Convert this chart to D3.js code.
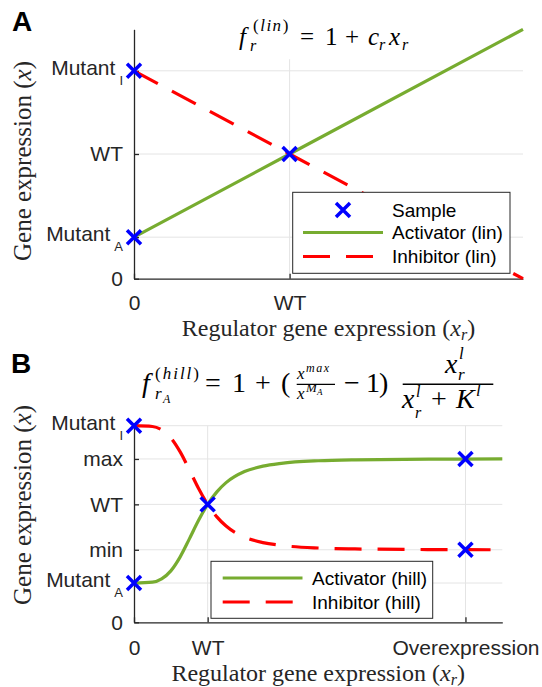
<!DOCTYPE html>
<html>
<head>
<meta charset="utf-8">
<script src="https://cdn.jsdelivr.net/npm/d3@7"></script>
<style>
  body { margin: 0; background: #fff; }
  svg { display: block; }
</style>
</head>
<body>
<svg id="chart" width="542" height="687"></svg>
<script>
// ---- panel A : linear model ----
const linX = [0, 1, 2.5];
const activatorLin = [0.333, 1, 2];
const inhibitorLin = [1.667, 1, 0];
const sampleLinX = [0, 0, 1];
const sampleLinY = [0.333, 1.667, 1];
const linYTicks = [0, 0.333, 1, 1.667];
const linYLabels = ["0", "Mutant|A", "WT", "Mutant|I"];
const linXTicks = [0, 1];
const linXLabels = ["0", "WT"];

// ---- panel B : hill model ----
const hillX = [0, 0.25, 0.375, 0.5, 0.625, 0.75, 0.875, 1, 1.125, 1.25, 1.5, 1.75, 2, 2.5, 3, 4, 5];
const activatorHill = [0.333, 0.340, 0.368, 0.436, 0.553, 0.705, 0.863, 1.0, 1.106, 1.184, 1.278, 1.324, 1.348, 1.370, 1.378, 1.383, 1.385];
const inhibitorHill = [1.667, 1.660, 1.632, 1.564, 1.447, 1.295, 1.137, 1.0, 0.894, 0.816, 0.722, 0.676, 0.652, 0.630, 0.622, 0.617, 0.615];
const sampleHillX = [0, 0, 1, 4.5, 4.5];
const sampleHillY = [0.333, 1.667, 1, 1.385, 0.615];
const hillYTicks = [0, 0.333, 0.615, 1, 1.385, 1.667];
const hillYLabels = ["0", "Mutant|A", "min", "WT", "max", "Mutant|I"];
const hillXTicks = [0, 1, 4.5];
const hillXLabels = ["0", "WT", "Overexpression"];

const sans = "'Liberation Sans', Arial, Helvetica, sans-serif";
const serif = "'Liberation Serif', 'Times New Roman', serif";
const axisColor = "#262626";
const gridColor = "#e4e4e4";
const green = "#77ac30";
const red = "#ff0000";
const blue = "#0000ff";

let svg = d3.select("#chart");

function drawPanel(o) {
  let g = svg.append("g");
  let x = d3.scaleLinear().domain(o.xDomain).range(o.xRange);
  let y = d3.scaleLinear().domain(o.yDomain).range(o.yRange);

  // gridlines
  g.selectAll(".hgrid")
    .data(o.yTicks.filter(d => d > 0))
    .enter().append("line")
    .attr("x1", o.xRange[0]).attr("x2", o.xRange[1])
    .attr("y1", d => y(d)).attr("y2", d => y(d))
    .attr("stroke", gridColor).attr("stroke-width", 1);
  g.selectAll(".vgrid")
    .data(o.xTicks.filter(d => d > 0))
    .enter().append("line")
    .attr("x1", d => x(d)).attr("x2", d => x(d))
    .attr("y1", y(o.vGridTop)).attr("y2", o.yRange[0])
    .attr("stroke", gridColor).attr("stroke-width", 1);

  // axes
  let xAxis = d3.axisBottom(x)
    .tickValues(o.xTicks)
    .tickFormat((d, i) => o.xLabels[i])
    .tickSizeInner(-5).tickSizeOuter(0)
    .tickPadding(o.xPad);
  let yAxis = d3.axisLeft(y)
    .tickValues(o.yTicks)
    .tickFormat((d, i) => o.yLabels[i])
    .tickSizeInner(-5).tickSizeOuter(0)
    .tickPadding(11);

  let xg = g.append("g")
    .attr("transform", "translate(0," + o.yRange[0] + ")")
    .call(xAxis);
  let yg = g.append("g")
    .attr("transform", "translate(" + o.xRange[0] + ",0)")
    .call(yAxis);

  [xg, yg].forEach(a => {
    a.select(".domain").attr("stroke", axisColor).attr("stroke-width", 1.3);
    a.selectAll(".tick line").attr("stroke", axisColor).attr("stroke-width", 1.3);
    a.selectAll(".tick text")
      .attr("fill", axisColor)
      .style("font-family", sans)
      .style("font-size", "21px");
  });

  // Mutant labels with subscript
  yg.selectAll(".tick text").each(function(d, i) {
    let parts = o.yLabels[i].split("|");
    if (parts.length > 1) {
      let t = d3.select(this).text(null).attr("dy", "0.18em");
      t.append("tspan").text(parts[0]);
      t.append("tspan").text(parts[1])
        .attr("dx", 4).attr("dy", 10)
        .style("font-size", "13px");
    }
  });

  let line = d3.line()
    .x(d => x(d[0]))
    .y(d => y(d[1]))
    .curve(o.curve);

  g.append("path")
    .attr("d", line(o.xs.map((d, i) => [d, o.act[i]])))
    .attr("fill", "none")
    .attr("stroke", green)
    .attr("stroke-width", 3.2);
  g.append("path")
    .attr("d", line(o.xs.map((d, i) => [d, o.inh[i]])))
    .attr("fill", "none")
    .attr("stroke", red)
    .attr("stroke-width", 3.2)
    .attr("stroke-dasharray", "27,16");

  // sample crosses
  g.selectAll(".sample")
    .data(o.sx.map((d, i) => [d, o.sy[i]]))
    .enter().append("path")
    .attr("transform", d => "translate(" + x(d[0]) + "," + y(d[1]) + ")")
    .attr("d", "M-7,-7L7,7M-7,7L7,-7")
    .attr("stroke", blue)
    .attr("stroke-width", 3.5);

  // axis titles
  let xl = g.append("text")
    .attr("x", (o.xRange[0] + o.xRange[1]) / 2)
    .attr("y", o.xLabelY)
    .attr("text-anchor", "middle")
    .attr("fill", axisColor)
    .style("font-family", serif)
    .style("font-size", "24px");
  xl.append("tspan").text("Regulator gene expression (");
  xl.append("tspan").text("x").style("font-style", "italic");
  xl.append("tspan").text("r").style("font-style", "italic").style("font-size", "16px").attr("dy", 4);
  xl.append("tspan").text(")").attr("dy", -4);

  let yl = g.append("text")
    .attr("transform", "translate(31," + o.yLabelY + ") rotate(-90)")
    .attr("text-anchor", "middle")
    .attr("fill", axisColor)
    .style("font-family", serif)
    .style("font-size", "25px");
  yl.append("tspan").text("Gene expression (");
  yl.append("tspan").text("x").style("font-style", "italic");
  yl.append("tspan").text(")");

  // legend
  let lg = g.append("g");
  lg.append("rect")
    .attr("x", o.legend.x).attr("y", o.legend.y)
    .attr("width", o.legend.w).attr("height", o.legend.h)
    .attr("fill", "#fff")
    .attr("stroke", axisColor).attr("stroke-width", 1);
  let rows = lg.selectAll(".row")
    .data(o.legend.items)
    .enter().append("g")
    .attr("transform", (d, i) => "translate(0," + o.legend.rows[i] + ")");
  rows.each(function(d) {
    let r = d3.select(this);
    let l = o.legend;
    if (d.type === "marker") {
      r.append("path")
        .attr("transform", "translate(" + (l.x1 + l.x2) / 2 + ",0)")
        .attr("d", "M-7,-7L7,7M-7,7L7,-7")
        .attr("stroke", blue).attr("stroke-width", 3.5);
    } else {
      r.append("line")
        .attr("x1", l.x1).attr("x2", l.x2)
        .attr("stroke", d.type === "act" ? green : red)
        .attr("stroke-width", 3.2)
        .attr("stroke-dasharray", d.type === "inh" ? "27,16" : null);
    }
    r.append("text")
      .attr("x", l.tx).attr("dy", "0.35em")
      .attr("fill", "#000")
      .style("font-family", sans)
      .style("font-size", "19px")
      .text(d.label);
  });

  return g;
}

function mt(x, y, str, size, italic, extra) {
  let t = svg.append("text")
    .attr("x", x).attr("y", y)
    .attr("fill", "#000")
    .style("font-family", serif)
    .style("font-size", size + "px")
    .style("font-style", italic ? "italic" : "normal")
    .text(str);
  if (extra) t.style("letter-spacing", extra + "px");
  return t;
}

drawPanel({
  xDomain: [0, 2.5], xRange: [134, 523],
  yDomain: [0, 2], yRange: [278.7, 29.3],
  vGridTop: 1.76,
  xTicks: linXTicks, xLabels: linXLabels, xPad: 16,
  yTicks: linYTicks, yLabels: linYLabels,
  xs: linX, act: activatorLin, inh: inhibitorLin,
  sx: sampleLinX, sy: sampleLinY,
  curve: d3.curveLinear,
  xLabelY: 336, yLabelY: 161,
  legend: {
    x: 292.7, y: 192.3, w: 217.3, h: 81,
    rows: [210, 232.5, 256.5], x1: 303, x2: 383, tx: 392,
    items: [
      {type: "marker", label: "Sample"},
      {type: "act", label: "Activator (lin)"},
      {type: "inh", label: "Inhibitor (lin)"}
    ]
  }
});

drawPanel({
  xDomain: [0, 5], xRange: [134, 502.3],
  yDomain: [0, 1.667], yRange: [622.3, 425.7],
  vGridTop: 1.667,
  xTicks: hillXTicks, xLabels: hillXLabels, xPad: 18,
  yTicks: hillYTicks, yLabels: hillYLabels,
  xs: hillX, act: activatorHill, inh: inhibitorHill,
  sx: sampleHillX, sy: sampleHillY,
  curve: d3.curveMonotoneX,
  xLabelY: 681, yLabelY: 505,
  legend: {
    x: 211, y: 561.3, w: 221.7, h: 57,
    rows: [578, 602], x1: 222.7, x2: 302.5, tx: 312,
    items: [
      {type: "act", label: "Activator (hill)"},
      {type: "inh", label: "Inhibitor (hill)"}
    ]
  }
});

// panel letters
svg.append("text").attr("x", 12).attr("y", 30.5)
  .style("font-family", sans).style("font-size", "28px").style("font-weight", "bold")
  .text("A");
svg.append("text").attr("x", 11).attr("y", 373)
  .style("font-family", sans).style("font-size", "28px").style("font-weight", "bold")
  .text("B");

// title A: f_r^(lin) = 1 + c_r x_r
mt(239, 45, "f", 25, true);
mt(250, 51, "r", 16, true);
let supA = mt(253, 31, "", 17, false, 1.5);
supA.append("tspan").text("(");
supA.append("tspan").text("lin").style("font-style", "italic");
supA.append("tspan").text(")");
mt(300, 45, "=", 25, false);
mt(325, 45, "1", 25, false);
mt(345, 45, "+", 25, false);
mt(368, 45, "c", 25, true);
mt(379, 50, "r", 16, true);
mt(389, 45, "x", 25, true);
mt(402, 50, "r", 16, true);

// title B: f_{r_A}^(hill) = 1 + (x^max / x^{M_A} - 1) x_r^l / (x_r^l + K^l)
mt(142, 392, "f", 28, true);
mt(155, 399, "r", 17, true);
mt(163, 403, "A", 12, true);
let supB = mt(155, 379, "", 17, false, 2);
supB.append("tspan").text("(");
supB.append("tspan").text("hill").style("font-style", "italic");
supB.append("tspan").text(")");
mt(205, 392, "=", 28, false);
mt(232, 392, "1", 28, false);
mt(255, 392, "+", 28, false);
mt(281, 392, "(", 28, false);
mt(297, 379, "x", 17, true);
mt(306, 372, "max", 12, true, 1.5);
svg.append("line").attr("x1", 296.7).attr("x2", 335).attr("y1", 384.3).attr("y2", 384.3)
  .attr("stroke", "#000").attr("stroke-width", 1.2);
mt(297, 399, "x", 17, true);
mt(306, 392, "M", 13, true);
mt(317, 395, "A", 9, true);
mt(344, 392, "\u2212", 28, false);
mt(366, 392, "1", 28, false);
mt(379, 392, ")", 28, false);
svg.append("line").attr("x1", 402.7).attr("x2", 493.3).attr("y1", 384.3).attr("y2", 384.3)
  .attr("stroke", "#000").attr("stroke-width", 1.5);
mt(445, 373, "x", 28, true);
mt(459, 359, "l", 17, true);
mt(458, 380, "r", 17, true);
mt(402, 408, "x", 28, true);
mt(416, 397, "l", 16, true);
mt(415, 418, "r", 16, true);
mt(431, 408, "+", 28, false);
mt(456, 408, "K", 28, true);
mt(476, 396, "l", 17, true);
</script>
</body>
</html>
